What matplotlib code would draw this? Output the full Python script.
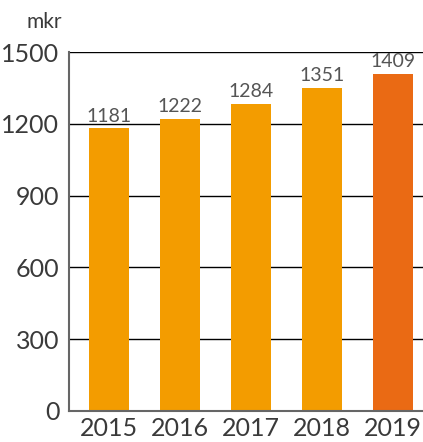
import matplotlib
matplotlib.use("Agg")
import matplotlib.pyplot as plt

years = ["2015", "2016", "2017", "2018", "2019"]
values = [1181, 1222, 1284, 1351, 1409]
colors = ["#F39C00", "#F39C00", "#F39C00", "#F39C00", "#EA6A14"]
yticks = [0, 300, 600, 900, 1200, 1500]

plt.rcParams['font.family'] = ['Lato', 'DejaVu Sans']
fig = plt.figure(figsize=(4.23, 4.42), dpi=100)
ax = fig.add_axes([69/423, 1 - 411/442, (423-69)/423, (411-52)/442])

x = list(range(len(years)))
ax.set_axisbelow(True)
for yv in yticks[1:]:
    ax.axhline(yv, color="black", lw=1.0, zorder=0)
ax.bar(x, values, width=40/71, color=colors, zorder=2)
for xi, v in zip(x, values):
    ax.text(xi, v + 15, str(v), ha="center", va="bottom", fontsize=14, color="#555555")

ax.set_xlim(-40/71, (423-109)/71)
ax.set_ylim(0, 1500)
ax.set_yticks(yticks)
ax.set_yticklabels([str(t) for t in yticks], fontsize=18, color="#3a3a3a")
ax.set_xticks(x)
ax.set_xticklabels(years, fontsize=18, color="#3a3a3a")
ax.tick_params(axis="both", length=0)
ax.tick_params(axis="y", pad=7)
ax.tick_params(axis="x", pad=4)
for s in ["top", "right"]:
    ax.spines[s].set_visible(False)
for s in ["left", "bottom"]:
    ax.spines[s].set_color("#666666")
    ax.spines[s].set_linewidth(1.5)
fig.text(62/423, 1 - 22/442, "mkr", ha="right", va="center", fontsize=15, color="#3a3a3a")
fig.savefig("out.png", dpi=100)
